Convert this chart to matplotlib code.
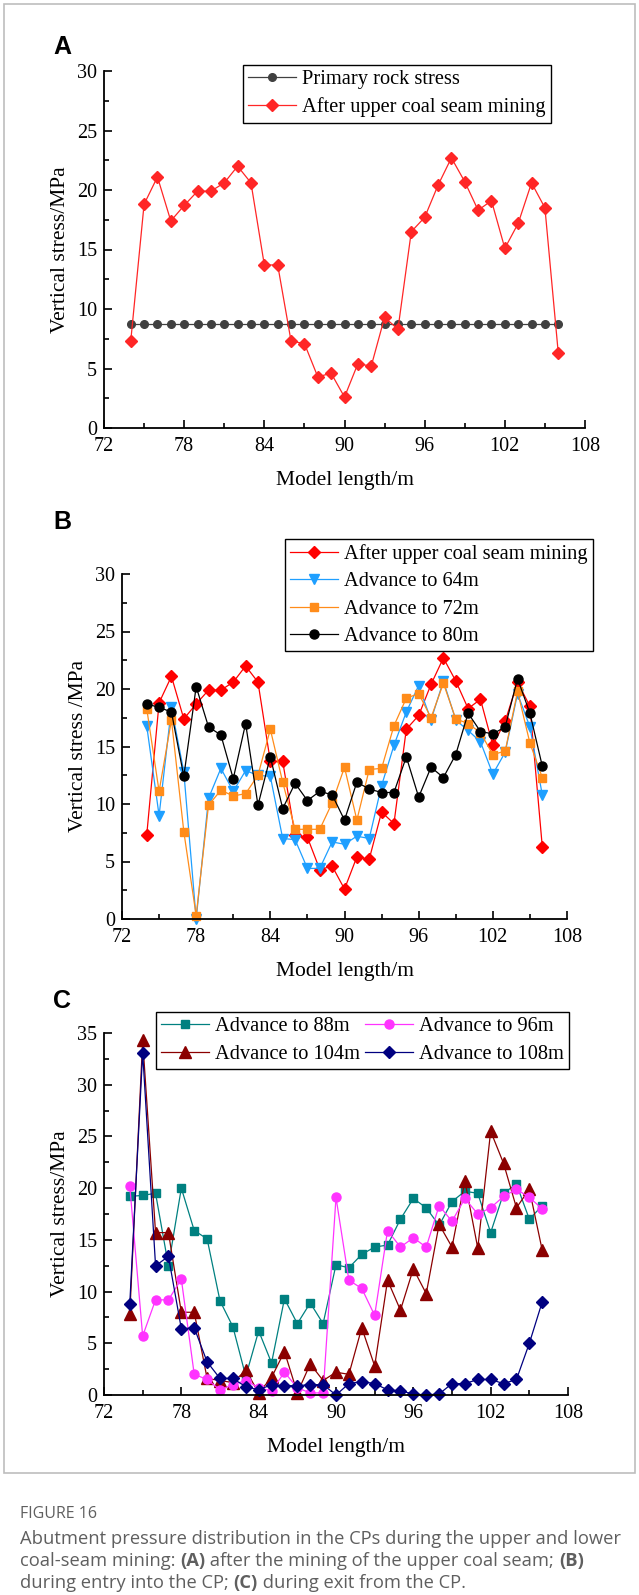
import matplotlib
matplotlib.use("Agg")
import matplotlib.pyplot as plt
import matplotlib.patches as patches
from matplotlib.ticker import MultipleLocator
import numpy as np

W, H = 639, 1595

# ---- data ----
x_pos = list(range(74, 107))

primary_rock = [8.7] * 33
after_upper = [7.3, 18.8, 21.1, 17.4, 18.7, 19.9, 19.9, 20.6, 22.0, 20.6, 13.7,
               13.7, 7.3, 7.1, 4.3, 4.6, 2.6, 5.4, 5.2, 9.3, 8.3, 16.5, 17.7,
               20.4, 22.7, 20.7, 18.3, 19.1, 15.1, 17.2, 20.6, 18.5, 6.3]

adv_64 = [16.8, 9.0, 18.4, 12.8, 0.0, 10.5, 13.1, 11.1, 12.9, 12.5, 12.4,
          7.0, 6.9, 4.4, 4.4, 6.7, 6.5, 7.2, 7.0, 11.6, 15.1, 18.0, 20.3,
          17.3, 20.7, 17.3, 16.4, 15.4, 12.6, 14.5, 19.6, 16.7, 10.8]
adv_72 = [18.3, 11.1, 17.3, 7.6, 0.3, 9.9, 11.2, 10.7, 10.9, 12.5, 16.5,
          11.9, 7.8, 7.8, 7.8, 10.1, 13.2, 8.6, 13.0, 13.1, 16.8, 19.2, 19.6,
          17.5, 20.5, 17.4, 17.0, 16.2, 14.3, 14.6, 19.8, 15.3, 12.3]
adv_80 = [18.7, 18.4, 18.0, 12.4, 20.2, 16.7, 16.0, 12.2, 17.0, 9.9, 14.1,
          9.6, 11.8, 10.3, 11.1, 10.8, 8.6, 11.9, 11.3, 11.0, 11.0, 14.1, 10.6,
          13.2, 12.3, 14.3, 17.9, 16.3, 16.1, 16.7, 20.9, 17.9, 13.3]

adv_88 = [19.2, 19.3, 19.5, 12.5, 20.0, 15.9, 15.1, 9.1, 6.6, 1.8, 6.2,
          3.1, 9.3, 6.9, 8.9, 6.9, 12.6, 12.3, 13.6, 14.3, 14.5, 17.0, 19.0,
          18.1, 16.4, 18.7, 19.7, 19.5, 15.7, 19.5, 20.4, 17.0, 18.3]
adv_96 = [20.2, 5.7, 9.2, 9.2, 11.2, 2.0, 1.5, 0.5, 1.0, 1.4, 0.7,
          0.4, 2.2, 0.7, 0.2, 0.2, 19.1, 11.1, 10.3, 7.7, 15.9, 14.3, 15.2,
          14.3, 18.3, 16.8, 19.0, 17.5, 18.1, 19.2, 19.9, 19.1, 18.0]
adv_104 = [7.8, 34.3, 15.7, 15.7, 8.0, 8.0, 1.6, 1.4, 1.2, 2.4, 0.2,
           1.7, 4.2, 0.2, 3.0, 1.4, 2.2, 2.0, 6.5, 2.8, 11.1, 8.2, 12.2,
           9.8, 16.5, 14.3, 20.7, 14.2, 25.5, 22.4, 18.1, 19.9, 14.0]
adv_108 = [8.8, 33.1, 12.5, 13.4, 6.4, 6.5, 3.2, 1.6, 1.6, 0.8, 0.5,
           1.0, 0.9, 0.9, 1.0, 1.0, 0.0, 1.1, 1.3, 1.1, 0.5, 0.4, 0.1,
           0.0, 0.1, 1.1, 1.1, 1.5, 1.5, 1.1, 1.5, 5.0, 9.0]

x_ticks = [72, 78, 84, 90, 96, 102, 108]

plt.rcParams['font.family'] = ['Liberation Serif', 'DejaVu Serif']

fig = plt.figure(figsize=(W / 100, H / 100), dpi=100)


def px_axes(left, top, right, bottom):
    return fig.add_axes([left / W, 1 - bottom / H, (right - left) / W, (bottom - top) / H])


def style_axes(ax, ymax, ystep, ylabel):
    ax.set_xlim(72, 108)
    ax.set_ylim(0, ymax)
    ax.set_xticks(x_ticks)
    ax.xaxis.set_minor_locator(MultipleLocator(3))
    ax.yaxis.set_major_locator(MultipleLocator(ystep))
    ax.yaxis.set_minor_locator(MultipleLocator(ystep / 2))
    for s in ['top', 'right']:
        ax.spines[s].set_visible(False)
    for s in ['left', 'bottom']:
        ax.spines[s].set_linewidth(1.3)
    ax.tick_params(which='both', direction='in', width=1.2, labelsize=14.5)
    ax.tick_params(axis='x', pad=6.5)
    ax.tick_params(axis='y', pad=5)
    ax.tick_params(which='major', length=6)
    ax.tick_params(which='minor', length=3.5)
    ax.set_xlabel('Model length/m', fontsize=15.5, labelpad=11)
    ax.set_ylabel(ylabel, fontsize=15.5, labelpad=5)
    ax.patch.set_alpha(0)


def leg(ax, x, y, ncol=1):
    lg = ax.legend(loc='upper left', bbox_to_anchor=(x / W, 1 - y / H),
                   bbox_transform=fig.transFigure, ncol=ncol, fontsize=14.7,
                   frameon=True, fancybox=False, framealpha=1, edgecolor='black',
                   borderpad=0.25, labelspacing=0.4, handlelength=2.35,
                   handletextpad=0.3, columnspacing=0.25, borderaxespad=0)
    lg.get_frame().set_linewidth(1.0)
    return lg


lw = 0.9

# ---- panel A ----
axA = px_axes(104, 71, 585, 428)
axA.plot(x_pos, primary_rock, '-o', color='#404040', lw=lw, ms=5.5,
         label='Primary rock stress', clip_on=False)
axA.plot(x_pos, after_upper, '-D', color='#ff2626', lw=lw, ms=6.5,
         label='After upper coal seam mining', clip_on=False)
style_axes(axA, 30, 5, 'Vertical stress/MPa')
leg(axA, 243, 65)

# ---- panel B ----
axB = px_axes(122, 574, 567, 919)
axB.plot(x_pos, after_upper, '-D', color='#ff0000', lw=lw, ms=6.5,
         label='After upper coal seam mining', clip_on=False)
axB.plot(x_pos, adv_64, '-v', color='#1e9fff', lw=lw, ms=7.5,
         label='Advance to 64m', clip_on=False)
axB.plot(x_pos, adv_72, '-s', color='#ff8c1a', lw=lw, ms=5.5,
         label='Advance to 72m', clip_on=False)
axB.plot(x_pos, adv_80, '-o', color='black', lw=lw, ms=6.5,
         label='Advance to 80m', clip_on=False)
style_axes(axB, 30, 5, 'Vertical stress /MPa')
leg(axB, 285, 539)

# ---- panel C ----
axC = px_axes(104, 1033, 568, 1395)
axC.plot(x_pos, adv_88, '-s', color='#008080', lw=lw, ms=5.5,
         label='Advance to 88m', clip_on=False)
axC.plot(x_pos, adv_104, '-^', color='#8b0000', lw=lw, ms=8,
         label='Advance to 104m', clip_on=False)
axC.plot(x_pos, adv_96, '-o', color='#ff33ff', lw=lw, ms=6.5,
         label='Advance to 96m', clip_on=False)
axC.plot(x_pos, adv_108, '-D', color='#000080', lw=lw, ms=6.5,
         label='Advance to 108m', clip_on=False)
style_axes(axC, 35, 5, 'Vertical stress/MPa')
leg(axC, 156, 1012, ncol=2)

# panel letters
for lab, yy in [('A', 47), ('B', 522), ('C', 1001)]:
    fig.text(53 / W, 1 - yy / H, lab, fontsize=18, fontweight='bold',
             family='Liberation Sans', va='center', ha='left')

# frame around the chart part
fig.patches.append(patches.Rectangle((4 / W, 1 - 1473 / H), 631 / W, 1469 / H,
                                     transform=fig.transFigure, fill=False,
                                     edgecolor='#bdbdbd', lw=1.2))

# caption
cap_col = '#5f5f5f'
cap_font = 'Open Sans'
fig.text(20 / W, 1 - 1514 / H, 'FIGURE 16', fontsize=11.5, color=cap_col,
         family=cap_font, va='center', ha='left')

cap_lines = [
    [('Abutment pressure distribution in the CPs during the upper and lower', 'normal')],
    [('coal-seam mining: ', 'normal'), ('(A)', 'bold'),
     (' after the mining of the upper coal seam; ', 'normal'), ('(B)', 'bold')],
    [('during entry into the CP; ', 'normal'), ('(C)', 'bold'),
     (' during exit from the CP.', 'normal')],
]
renderer = fig.canvas.get_renderer()
for i, pieces in enumerate(cap_lines):
    x = 20
    y = 1539 + 22 * i
    for txt, wt in pieces:
        t = fig.text(x / W, 1 - y / H, txt, fontsize=13.2, color=cap_col,
                     family=cap_font, fontweight=wt, va='center', ha='left')
        bb = t.get_window_extent(renderer=renderer)
        x += bb.width

fig.savefig('out.png', dpi=100)
